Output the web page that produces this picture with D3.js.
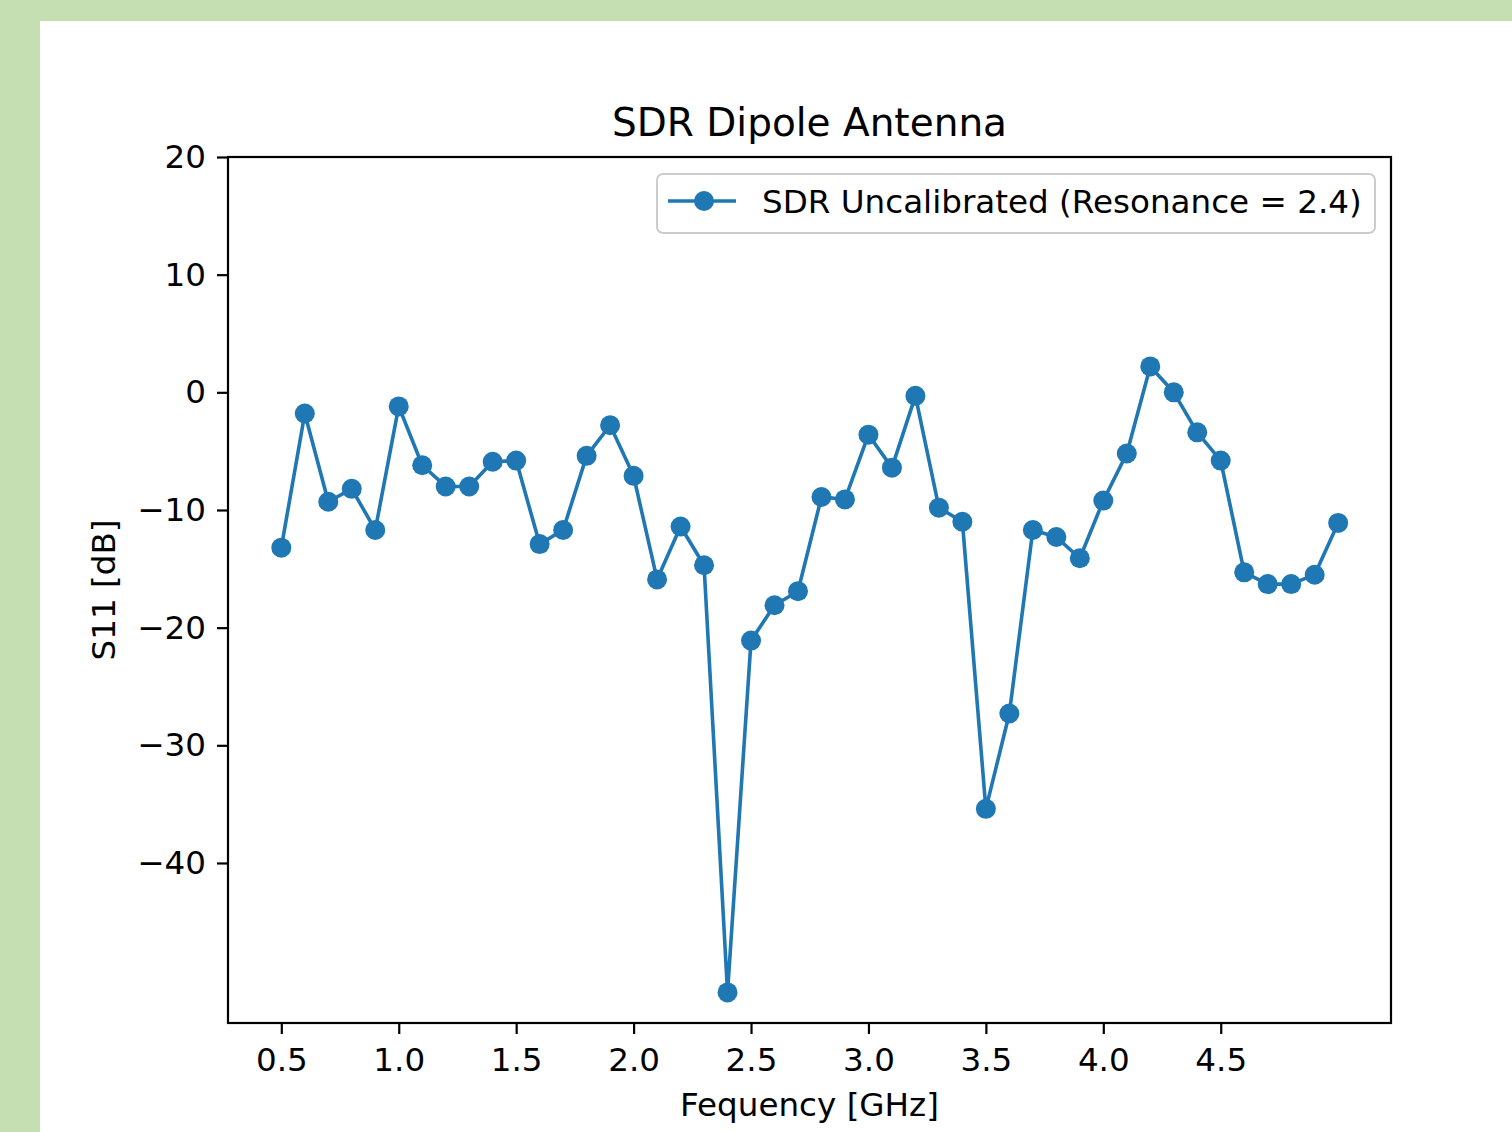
<!DOCTYPE html>
<html>
<head>
<meta charset="utf-8">
<script src="https://cdn.jsdelivr.net/npm/d3@7"></script>
<style>
  body { margin: 0; background: #c5dfb2; }
  svg { display: block; font-family: "DejaVu Sans", sans-serif; }
</style>
</head>
<body>
<div class="chart"></div>
<script>
// Data
let freqs = [0.5, 0.6, 0.7, 0.8, 0.9, 1.0, 1.1, 1.2, 1.3, 1.4, 1.5, 1.6, 1.7, 1.8, 1.9,
  2.0, 2.1, 2.2, 2.3, 2.4, 2.5, 2.6, 2.7, 2.8, 2.9, 3.0, 3.1, 3.2, 3.3, 3.4, 3.5,
  3.6, 3.7, 3.8, 3.9, 4.0, 4.1, 4.2, 4.3, 4.4, 4.5, 4.6, 4.7, 4.8, 4.9, 5.0];
let s11 = [-13.2, -1.8, -9.3, -8.2, -11.7, -1.2, -6.2, -8.0, -8.0, -5.9, -5.8, -12.9, -11.7, -5.4, -2.8,
  -7.1, -15.9, -11.4, -14.7, -51.0, -21.1, -18.1, -16.9, -8.9, -9.1, -3.6, -6.4, -0.3, -9.8, -11.0, -35.4,
  -27.3, -11.7, -12.3, -14.1, -9.2, -5.2, 2.2, 0.0, -3.4, -5.8, -15.3, -16.3, -16.3, -15.5, -11.1];
let xTicks = [0.5, 1.0, 1.5, 2.0, 2.5, 3.0, 3.5, 4.0, 4.5];
let yTicks = [20, 10, 0, -10, -20, -30, -40];
let seriesName = "SDR Uncalibrated (Resonance = 2.4)";

let svgWidth = 1512;
let svgHeight = 1132;
let margin = { top: 157, right: 121, bottom: 109, left: 228 };
let chartWidth = svgWidth - margin.left - margin.right;
let chartHeight = svgHeight - margin.top - margin.bottom;
let color = "#1f77b4";

let svg = d3.select(".chart")
  .append("svg")
  .attr("width", svgWidth)
  .attr("height", svgHeight);

// green slide background + white figure panel
svg.append("rect").attr("width", svgWidth).attr("height", svgHeight).attr("fill", "#c5dfb2");
svg.append("rect").attr("x", 40).attr("y", 21)
  .attr("width", svgWidth - 40).attr("height", svgHeight - 21).attr("fill", "#ffffff");

let chart = svg.append("g")
  .attr("transform", `translate(${margin.left}, ${margin.top})`);

// Scales (matplotlib style 5% x margin, y top fixed at 20)
let xScale = d3.scaleLinear().domain([0.273, 5.225]).range([0, chartWidth]);
let yScale = d3.scaleLinear().domain([-53.6, 20]).range([chartHeight, 0]);

let xAxis = d3.axisBottom(xScale).tickValues(xTicks).tickFormat(d3.format(".1f"))
  .tickSize(11).tickPadding(14);
let yAxis = d3.axisLeft(yScale).tickValues(yTicks).tickFormat(d => d < 0 ? "\u2212" + Math.abs(d) : d)
  .tickSize(11).tickPadding(11);

let gx = chart.append("g")
  .attr("transform", `translate(0, ${chartHeight})`)
  .call(xAxis);
let gy = chart.append("g").call(yAxis);

[gx, gy].forEach(g => {
  g.select(".domain").remove();
  g.selectAll("line").attr("stroke", "#000").attr("stroke-width", 2.2);
  g.selectAll("text").attr("fill", "#000").attr("font-size", 32.6)
    .attr("font-family", "DejaVu Sans, sans-serif");
});

// frame
chart.append("rect")
  .attr("width", chartWidth).attr("height", chartHeight)
  .attr("fill", "none").attr("stroke", "#000").attr("stroke-width", 2.2);

// line + markers
let line = d3.line()
  .x((d, i) => xScale(freqs[i]))
  .y(d => yScale(d));

chart.append("path")
  .datum(s11)
  .attr("d", line)
  .attr("fill", "none")
  .attr("stroke", color)
  .attr("stroke-width", 3.6)
  .attr("stroke-linejoin", "round");

chart.selectAll("circle.pt")
  .data(s11)
  .enter().append("circle")
  .attr("class", "pt")
  .attr("cx", (d, i) => xScale(freqs[i]))
  .attr("cy", d => yScale(d))
  .attr("r", 10)
  .attr("fill", color);

// legend
let legend = chart.append("g").attr("transform", `translate(${657 - margin.left}, ${174 - margin.top})`);
legend.append("rect")
  .attr("width", 718).attr("height", 59)
  .attr("rx", 6).attr("ry", 6)
  .attr("fill", "#ffffff").attr("fill-opacity", 0.8)
  .attr("stroke", "#cccccc").attr("stroke-width", 2);
legend.append("line")
  .attr("x1", 11).attr("x2", 79).attr("y1", 27).attr("y2", 27)
  .attr("stroke", color).attr("stroke-width", 3.6);
legend.append("circle").attr("cx", 47).attr("cy", 27).attr("r", 10).attr("fill", color);
legend.append("text")
  .attr("x", 105).attr("y", 39)
  .attr("font-size", 32.6).attr("fill", "#000")
  .text(seriesName);

// title and axis labels
svg.append("text")
  .attr("x", margin.left + chartWidth / 2).attr("y", 136)
  .attr("text-anchor", "middle").attr("font-size", 39).attr("fill", "#000")
  .text("SDR Dipole Antenna");

svg.append("text")
  .attr("x", margin.left + chartWidth / 2).attr("y", 1116)
  .attr("text-anchor", "middle").attr("font-size", 32.6).attr("fill", "#000")
  .text("Fequency [GHz]");

svg.append("text")
  .attr("transform", `translate(115, ${margin.top + chartHeight / 2}) rotate(-90)`)
  .attr("text-anchor", "middle").attr("font-size", 32.6).attr("fill", "#000")
  .text("S11 [dB]");
</script>
</body>
</html>
